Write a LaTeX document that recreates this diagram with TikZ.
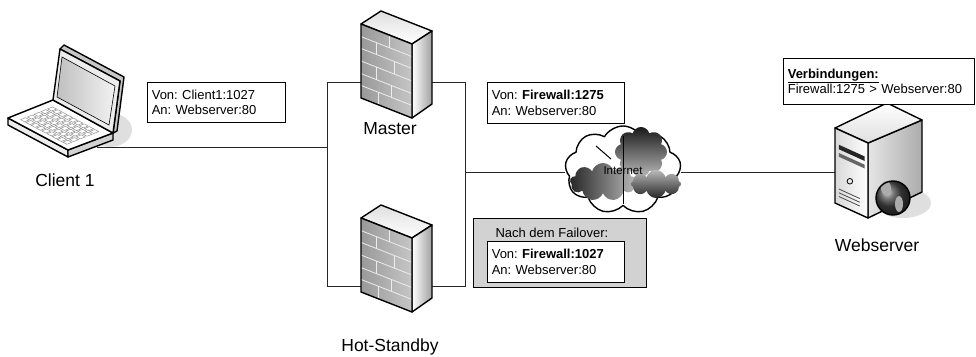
\documentclass[tikz,border=0pt]{standalone}
\usepackage{fontspec}
\setmainfont{Liberation Sans}
\usetikzlibrary{shapes.symbols}

\tikzset{
  outline/.style={draw=black, line width=1.4pt, line join=round},
  wire/.style={draw=black!85, line width=0.8pt},
  infobox/.style={draw=black, line width=0.6pt, fill=white, anchor=north west,
    align=left, inner sep=4.5pt, font=\fontsize{13}{15.5}\selectfont},
  devlabel/.style={anchor=base, font=\fontsize{17.5}{21}\selectfont},
}

\begin{document}
\frenchspacing
\begin{tikzpicture}[x=1pt, y=-1pt]
    \fill[white] (0,0) rectangle (976,356);
    \useasboundingbox (0,0) rectangle (976,356);

    % Connection points
    \coordinate (laptop-port) at (97,147);
    \coordinate (lb-mid) at (327,147);
    \coordinate (lb-bot) at (327,286);
    \coordinate (rb-mid) at (465,172);
    \coordinate (rb-bot) at (465,286);
    \coordinate (fw-master-w) at (362,82);
    \coordinate (fw-master-e) at (431,82);
    \coordinate (fw-standby-w) at (362,286);
    \coordinate (fw-standby-e) at (431,286);
    \coordinate (server-port) at (836,172);

    % Internet cloud
    \node[cloud, cloud puffs=9, cloud puff arc=120, aspect=1.35, outline,
          fill=white, minimum width=116pt, minimum height=88pt] (internet) at (623,170) {};

    % Wiring
    \draw[wire] (laptop-port) -- (lb-mid);
    \draw[wire] (fw-master-w) -| (lb-bot) -- (fw-standby-w);
    \draw[wire] (fw-master-e) -| (rb-bot) -- (fw-standby-e);
    \draw[wire] (rb-mid) -- (internet.west |- rb-mid);
    \draw[wire] (internet.east |- server-port) -- (server-port);

    % dark puffs inside the cloud
    \node[cloud, cloud puffs=8, aspect=1, minimum width=52pt, minimum height=50pt,
          top color=black!90, bottom color=gray!55] (puff-a) at (641,152) {};
    \node[cloud, cloud puffs=9, aspect=1.8, minimum width=66pt, minimum height=38pt,
          left color=black!85, right color=gray!55] (puff-b) at (603,182) {};
    \node[cloud, cloud puffs=8, aspect=1.8, minimum width=50pt, minimum height=28pt,
          top color=gray!55, bottom color=black!85] (puff-c) at (656,184) {};
    \draw[line width=1pt] (623,136) -- (623,204);
    \draw[line width=1pt] (596,146) -- (611,159);
    \node[font=\fontsize{11.5}{13}\selectfont] (internet-label) at (623,171) {Internet};

    % Laptop
    \fill[gray!25] (110,130) ellipse (22 and 17);
    \draw[outline, fill=gray!15] (8,118) -- (68,150) -- (68,157) -- (8,125) -- cycle;
    \draw[outline, fill=gray!35] (68,150) -- (113,133) -- (113,140) -- (68,157) -- cycle;
    \draw[outline, fill=white] (8,118) -- (53,100) -- (113,133) -- (68,150) -- cycle;
    \begin{scope}[shift={(8,118)}, x={(60pt,-32pt)}, y={(45pt,18pt)}]
      \foreach \i in {0,...,8}
        \foreach \j in {0,...,4}
          \draw[gray!85, line width=0.5pt] (0.12+0.088*\i,0.12+0.15*\j) -- ++(0.066,0)
            -- ++(0,0.11) -- ++(-0.066,0) -- cycle;
    \end{scope}
    \draw[outline, fill=gray!45] (60,49) -- (64,45) -- (124,77) -- (117,131)
      -- (113,133) -- (120,81) -- cycle;
    \draw[outline, fill=gray!15] (53,100) -- (60,49) -- (120,81) -- (113,133) -- cycle;
    \shade[left color=gray!50, right color=gray!10, draw=black, line width=0.6pt]
      (62,57) -- (115,86) -- (109,125) -- (57,97) -- cycle;
    \node[devlabel] (client-label) at (65,186) {Client 1};

    % Firewall blocks
    \foreach \dy in {0,194} {
      \begin{scope}[shift={(0,\dy)}]
        \shadedraw[outline, top color=gray!25, bottom color=white]
          (361,24) -- (381,11) -- (432,31) -- (412,44) -- cycle;
        \shadedraw[outline, left color=white, right color=gray!75]
          (412,44) -- (432,31) -- (432,104) -- (412,118) -- cycle;
        \shade[left color=gray!80, right color=gray!45]
          (361,24) -- (412,44) -- (412,118) -- (361,98) -- cycle;
        % bricks
        \begin{scope}[shift={(361,24)}, x={(51pt,-20pt)}, y={(0pt,-74pt)}]
          \foreach \v in {0.17,0.33,0.5,0.67,0.83}
            \draw[white!85!gray, line width=0.8pt] (0,\v) -- (1,\v);
          \foreach \va/\vb/\u in {0/0.17/0.55, 0.17/0.33/0.3, 0.33/0.5/0.65,
                                  0.5/0.67/0.3, 0.67/0.83/0.6, 0.83/1/0.35}
            \draw[white!85!gray, line width=0.8pt] (\u,\va) -- (\u,\vb);
        \end{scope}
        \draw[outline] (361,24) -- (412,44) -- (412,118) -- (361,98) -- cycle;
      \end{scope}
    }
    \node[devlabel] (master) at (390,134) {Master};
    \node[devlabel] (standby) at (390,351) {Hot-Standby};

    % Webserver
    \fill[gray!25] (903,203) ellipse (28 and 15);
    \shadedraw[outline, left color=gray!20, right color=gray!65]
      (868,143) -- (922,120) -- (922,192) -- (868,218) -- cycle;
    \shadedraw[outline, top color=white, bottom color=gray!25]
      (835,128) -- (887,103) -- (922,120) -- (868,143) -- cycle;
    \shadedraw[outline, left color=gray!30, right color=white]
      (835,128) -- (868,143) -- (868,218) -- (835,203) -- cycle;
    \begin{scope}[shift={(835,128)}, x={(33pt,-15pt)}, y={(0pt,-75pt)}]
      \fill[black!85] (0.12,0.2) -- (0.9,0.2) -- (0.9,0.26) -- (0.12,0.26) -- cycle;
      \fill[black!60] (0.12,0.31) -- (0.9,0.31) -- (0.9,0.36) -- (0.12,0.36) -- cycle;
      \draw[line width=0.8pt] (0.45,0.62) circle (2.8pt);
      \foreach \v in {0.79,0.84,0.89}
        \draw[black!70, line width=0.8pt] (0.12,\v) -- (0.75,\v);
    \end{scope}
    \shade[ball color=gray!55!black] (893,198) circle (17pt);
    \fill[gray!65] (886,188) ellipse (5 and 7);
    \fill[gray!65] (899,204) ellipse (4 and 8);
    \draw[outline] (893,198) circle (17pt);
    \node[devlabel] (server-label) at (877,251) {Webserver};

    % Address boxes
    \node[infobox, text width=129pt, minimum height=40pt] (client-box) at (147,82)
      {Von: Client1:1027\\An: Webserver:80};
    \node[infobox, text width=128pt, minimum height=41pt] (nat-box) at (487,82)
      {Von: \textbf{Firewall:1275}\\An: Webserver:80};
    \node[draw=black, line width=0.6pt, fill=gray!35, anchor=north west,
          minimum width=173pt, minimum height=69pt] (failover) at (473,218) {};
    \node[anchor=base west, font=\fontsize{13}{15.5}\selectfont] (failover-title)
      at (492,237) {Nach dem Failover:};
    \node[infobox, text width=128pt, minimum height=41pt] (failover-box) at (487,241)
      {Von: \textbf{Firewall:1027}\\An: Webserver:80};
    \node[infobox, text width=182pt, minimum height=46pt] (conn-box) at (783,58)
      {\underline{\textbf{Verbindungen:}}\\Firewall:1275 > Webserver:80};
\end{tikzpicture}
\end{document}
